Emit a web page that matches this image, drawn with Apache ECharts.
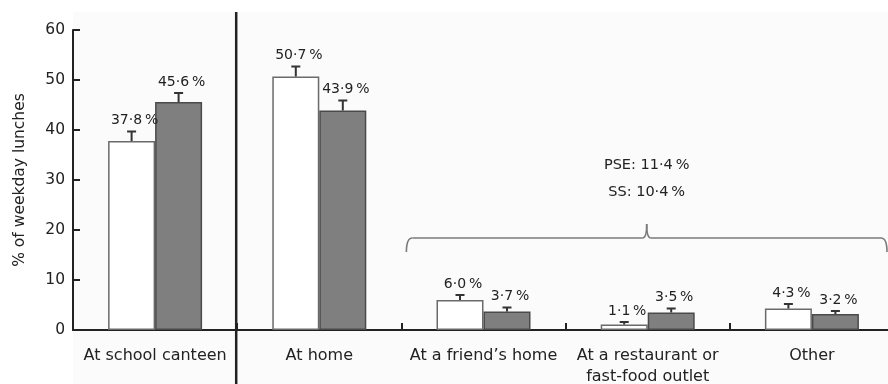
<!DOCTYPE html>
<html>
<head>
<meta charset="utf-8">
<script src="https://cdn.jsdelivr.net/npm/echarts@6/dist/echarts.min.js"></script>
<style>
  html, body { margin: 0; padding: 0; background: #ffffff; }
  #chart { width: 888px; height: 384px; }
</style>
</head>
<body>
<div id="chart"></div>
<script>
// Where weekday lunches are eaten: PSE (white bars) vs SS (grey bars)
const categories = [
  'At school canteen',
  'At home',
  'At a friend\u2019s home',
  'At a restaurant or\nfast-food outlet',
  'Other'
];
const pseValues = [37.8, 50.7, 6.0, 1.1, 4.3];
const ssValues = [45.6, 43.9, 3.7, 3.5, 3.2];
const pseErrors = [1.9, 2.0, 1.0, 0.5, 0.9];
const ssErrors = [1.8, 2.0, 0.8, 0.8, 0.6];
const yTicks = [0, 10, 20, 30, 40, 50, 60];
const groupNote = ['PSE: 11\u00b74\u2009%', 'SS: 10\u00b74\u2009%'];
const braceLevel = 18.4;

const FONT = 'DejaVu Sans';
const INK = '#222222';
const BAR_W = 47;

function fmt(v) {
  return v.toFixed(1).replace('.', '\u00b7') + '\u2009%';
}

// Upper error whisker with a cap, plus the value label above it
function errorSeries(name, values, errors, shift) {
  return {
    type: 'custom',
    name: name,
    z: 5,
    data: values.map((v, i) => [i, v, errors[i]]),
    renderItem: function (params, api) {
      const i = api.value(0);
      const v = api.value(1);
      const e = api.value(2);
      const base = api.coord([i, v]);
      const top = api.coord([i, v + e]);
      const x = base[0] + shift;
      return {
        type: 'group',
        children: [
          { type: 'line', shape: { x1: x, y1: base[1], x2: x, y2: top[1] },
            style: { stroke: '#333', lineWidth: 2 } },
          { type: 'line', shape: { x1: x - 4.5, y1: top[1], x2: x + 4.5, y2: top[1] },
            style: { stroke: '#333', lineWidth: 2 } },
          { type: 'text', x: x + 3, y: top[1] - 4,
            style: { text: fmt(v), fill: INK, font: '14px "' + FONT + '"',
                     align: 'center', verticalAlign: 'bottom' } }
        ]
      };
    }
  };
}

const chart = echarts.init(document.getElementById('chart'), null, { renderer: 'canvas' });

const option = {
  backgroundColor: '#ffffff',
  animation: false,
  textStyle: { fontFamily: FONT },
  grid: { left: 73, right: -6, top: 30, bottom: 54, containLabel: false, outerBoundsMode: 'none' },
  xAxis: {
    type: 'category',
    data: categories,
    axisLine: { lineStyle: { color: INK, width: 2 } },
    axisTick: { show: true, inside: true, length: 7, lineStyle: { color: INK, width: 2 } },
    axisLabel: { color: INK, fontSize: 16, fontFamily: FONT, margin: 15, lineHeight: 21, interval: 0 },
    splitLine: { show: false }
  },
  yAxis: {
    type: 'value',
    min: yTicks[0],
    max: yTicks[yTicks.length - 1],
    interval: yTicks[1] - yTicks[0],
    name: '% of weekday lunches',
    nameLocation: 'middle',
    nameGap: 45,
    nameRotate: 90,
    nameTextStyle: { color: INK, fontSize: 15.5, fontFamily: FONT },
    axisLine: { show: true, lineStyle: { color: INK, width: 2 } },
    axisTick: { show: true, inside: true, length: 7, lineStyle: { color: INK, width: 2 } },
    axisLabel: { color: INK, fontSize: 15.5, fontFamily: FONT, margin: 8 },
    splitLine: { show: false }
  },
  series: [
    {
      type: 'bar', name: 'PSE', data: pseValues,
      barWidth: BAR_W, barGap: '0%',
      itemStyle: { color: '#ffffff', borderColor: '#6a6a6a', borderWidth: 1.5 }
    },
    {
      type: 'bar', name: 'SS', data: ssValues,
      barWidth: BAR_W, barGap: '0%',
      itemStyle: { color: '#7f7f7f', borderColor: '#4a4a4a', borderWidth: 1.5 }
    },
    errorSeries('PSE error', pseValues, pseErrors, -BAR_W / 2),
    errorSeries('SS error', ssValues, ssErrors, BAR_W / 2)
  ]
};

chart.setOption(option);

// Divider, bracket and the grouped totals, placed from the axis scales
const centers = categories.map((c, i) => chart.convertToPixel({ xAxisIndex: 0 }, i));
const step = centers[1] - centers[0];
const divX = (centers[0] + centers[1]) / 2 - 1;
const braceLeft = (centers[1] + centers[2]) / 2 + 5;
const braceRight = 887;
const braceMid = (braceLeft + braceRight) / 2;
const braceY = chart.convertToPixel({ yAxisIndex: 0 }, braceLevel);
const x0 = centers[0] - step / 2;

const braceStyle = { stroke: '#7a7a7a', lineWidth: 1.6, fill: null };
function curve(x1, y1, cx, cy, x2, y2) {
  return { type: 'bezierCurve', z: 50, silent: true,
           shape: { x1: x1, y1: y1, cpx1: cx, cpy1: cy, x2: x2, y2: y2 },
           style: braceStyle };
}
function seg(x1, y1, x2, y2) {
  return { type: 'line', z: 50, silent: true,
           shape: { x1: x1, y1: y1, x2: x2, y2: y2 }, style: braceStyle };
}

chart.setOption({
  graphic: [
    { type: 'rect', z: -10, silent: true,
      shape: { x: x0, y: 12, width: 888, height: 384 },
      style: { fill: '#fbfbfb' } },
    { type: 'line', z: 50, silent: true,
      shape: { x1: divX, y1: 12, x2: divX, y2: 384 },
      style: { stroke: '#222', lineWidth: 2.5 } },
    curve(braceLeft, braceY + 14, braceLeft, braceY, braceLeft + 6, braceY),
    seg(braceLeft + 6, braceY, braceMid - 4, braceY),
    curve(braceMid - 4, braceY, braceMid, braceY, braceMid, braceY - 14),
    curve(braceMid, braceY - 14, braceMid, braceY, braceMid + 4, braceY),
    seg(braceMid + 4, braceY, braceRight - 6, braceY),
    curve(braceRight - 6, braceY, braceRight, braceY, braceRight, braceY + 14),
    { type: 'text', z: 50, silent: true,
      x: braceMid, y: braceY - 73,
      style: { text: groupNote[0], fill: INK, font: '14.5px "' + FONT + '"',
               align: 'center', verticalAlign: 'middle' } },
    { type: 'text', z: 50, silent: true,
      x: braceMid, y: braceY - 46,
      style: { text: groupNote[1], fill: INK, font: '14.5px "' + FONT + '"',
               align: 'center', verticalAlign: 'middle' } }
  ]
});
</script>
</body>
</html>
